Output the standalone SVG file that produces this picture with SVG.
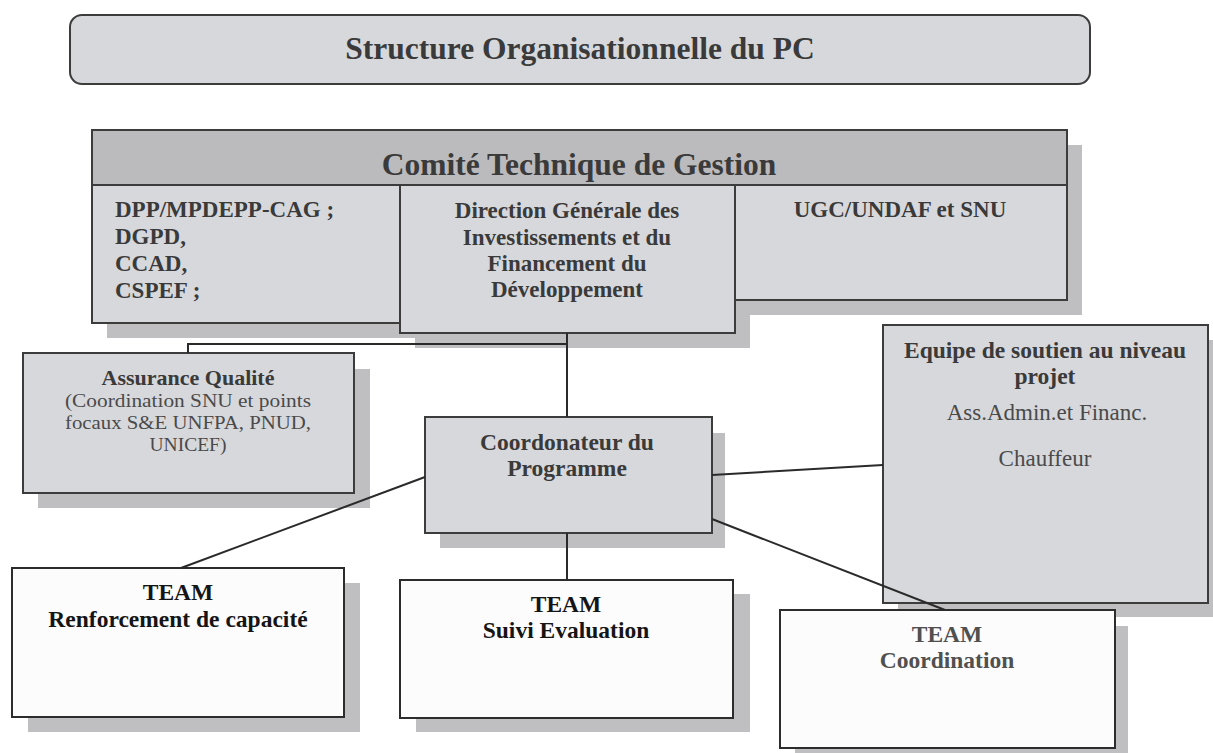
<svg xmlns="http://www.w3.org/2000/svg" width="1213" height="753" viewBox="0 0 1213 753">
<style>
.box{fill:#d7d8dc;stroke:#3c3c3c;stroke-width:2}
.hdr{fill:#bbbbbe;stroke:#3c3c3c;stroke-width:2}
.wbox{fill:#fcfcfd;stroke:#2c2c2c;stroke-width:2}
.sh{fill:#bfbfc1}
.t{font-family:"Liberation Serif","Times New Roman",serif;fill:#3a3a3a;font-weight:bold}
.r{font-family:"Liberation Serif","Times New Roman",serif;fill:#4a4a4a;font-weight:normal}
.k{fill:#151515}
.g{fill:#505050}
.c{text-anchor:middle}
.ln{stroke:#2a2a2a;stroke-width:2;fill:none}
</style>
<rect width="1213" height="753" fill="#ffffff"/>
<g id="title">
<rect x="70" y="15" width="1020" height="69" rx="12" class="box"/>
<text x="580" y="59" class="t c" font-size="31.5">Structure Organisationnelle du PC</text>
</g>
<g id="comite">
<rect x="107" y="145" width="975" height="170" class="sh"/>
<rect x="107" y="200" width="308" height="138" class="sh"/>
<rect x="415" y="200" width="335" height="148" class="sh"/>
<rect x="92" y="130" width="975" height="55" class="hdr"/>
<text x="579" y="175" class="t c" font-size="31.5">Comité Technique de Gestion</text>
<rect x="92" y="185" width="308" height="138" class="box"/>
<text x="115" y="217" class="t" font-size="23">DPP/MPDEPP-CAG ;</text>
<text x="115" y="244" class="t" font-size="23">DGPD,</text>
<text x="115" y="271" class="t" font-size="23">CCAD,</text>
<text x="115" y="298" class="t" font-size="23">CSPEF  ;</text>
<rect x="735" y="185" width="332" height="115" class="box"/>
<text x="900" y="217" class="t c" font-size="23">UGC/UNDAF et SNU</text>
</g>
<g id="direction">
<rect x="400" y="185" width="335" height="148" class="box"/>
<text x="567" y="218" class="t c" font-size="23">Direction Générale des</text>
<text x="567" y="245" class="t c" font-size="23">Investissements et du</text>
<text x="567" y="271" class="t c" font-size="23">Financement du</text>
<text x="567" y="297" class="t c" font-size="23">Développement</text>
</g>
<g id="assurance">
<rect x="38" y="369" width="332" height="139" class="sh"/>
<rect x="23" y="353" width="331" height="140" class="box"/>
<text x="188" y="385" class="t c" font-size="22">Assurance Qualité</text>
<text x="188" y="407" class="r c" font-size="19.5" textLength="246" lengthAdjust="spacingAndGlyphs">(Coordination SNU et points</text>
<text x="188" y="429" class="r c" font-size="19.5" textLength="246" lengthAdjust="spacingAndGlyphs">focaux S&amp;E UNFPA, PNUD,</text>
<text x="188" y="451" class="r c" font-size="19.5">UNICEF)</text>
</g>
<g id="equipe">
<rect x="898" y="340" width="315" height="277" class="sh"/>
<rect x="883" y="325" width="325" height="278" class="box"/>
<text x="1045" y="358" class="t c" font-size="23.5">Equipe de soutien au niveau</text>
<text x="1045" y="384" class="t c" font-size="23.5">projet</text>
<text x="1047" y="420" class="r c" font-size="23">Ass.Admin.et Financ.</text>
<text x="1045" y="466" class="r c" font-size="23">Chauffeur</text>
</g>
<g id="coordonateur">
<rect x="440" y="433" width="285" height="115" class="sh"/>
<rect x="425" y="417" width="287" height="116" class="box"/>
<text x="567" y="450" class="t c" font-size="23.5">Coordonateur du</text>
<text x="567" y="476" class="t c" font-size="23.5">Programme</text>
</g>
<g id="team-renforcement">
<rect x="28" y="583" width="332" height="149" class="sh"/>
<rect x="12" y="568" width="332" height="149" class="wbox"/>
<text x="178" y="600" class="t k c" font-size="23.5">TEAM</text>
<text x="178" y="627" class="t k c" font-size="23.5">Renforcement de capacité</text>
</g>
<g id="team-suivi">
<rect x="416" y="594" width="334" height="138" class="sh"/>
<rect x="400" y="580" width="333" height="138" class="wbox"/>
<text x="566" y="612" class="t k c" font-size="23.5">TEAM</text>
<text x="566" y="638" class="t k c" font-size="23.5">Suivi Evaluation</text>
</g>
<g id="team-coordination">
<rect x="795" y="626" width="333" height="140" class="sh"/>
<rect x="780" y="610" width="335" height="138" class="wbox"/>
<text x="947" y="642" class="t g c" font-size="23.5">TEAM</text>
<text x="947" y="668" class="t g c" font-size="23.5">Coordination</text>
</g>
<g id="connectors">
<path class="ln" d="M567 333 V417"/>
<path class="ln" d="M567 344 H188 V353"/>
<path class="ln" d="M425 477 L181 568"/>
<path class="ln" d="M567 533 V580"/>
<path class="ln" d="M712 475 L883 465"/>
<path class="ln" d="M712 519 L945 610"/>
</g>
</svg>
